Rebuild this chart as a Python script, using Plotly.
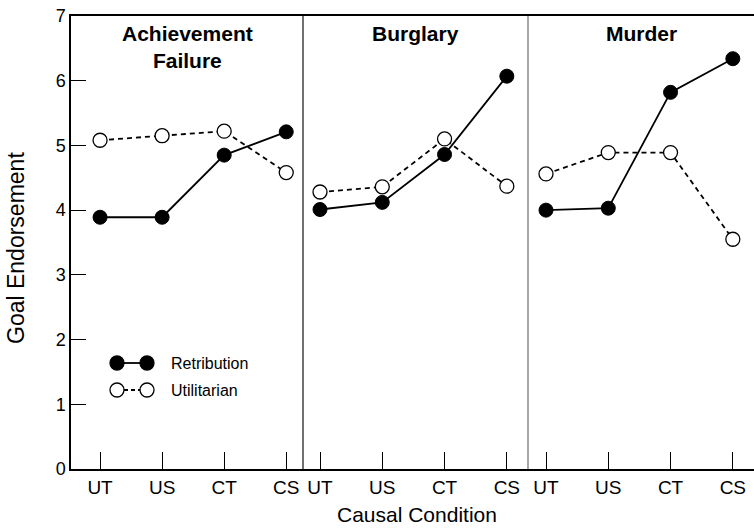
import plotly.graph_objects as go

conditions = ["UT", "US", "CT", "CS"]
panels = ["Achievement<br>Failure", "Burglary", "Murder"]
retribution = [
    [3.89, 3.89, 4.85, 5.21],
    [4.01, 4.12, 4.86, 6.07],
    [4.00, 4.03, 5.82, 6.34],
]
utilitarian = [
    [5.08, 5.15, 5.22, 4.58],
    [4.28, 4.36, 5.10, 4.37],
    [4.56, 4.89, 4.89, 3.55],
]
y_ticks = [0, 1, 2, 3, 4, 5, 6, 7]

FONT = "Liberation Sans, Arial, sans-serif"
W, H = 754, 528
ML, MR, MT, MB = 71, 0, 16, 59
PW = W - ML - MR
PH = H - MT - MB

# panel boundaries in pixels and the x ranges that place the four categories
bounds = [(71, 303), (303, 528), (528, 754)]
xranges = [[-0.468, 3.27], [-0.273, 3.34], [-0.289, 3.34]]

fig = go.Figure()
xs = list(range(len(conditions)))
for i in range(3):
    xa = "x" if i == 0 else f"x{i+1}"
    fig.add_trace(go.Scatter(
        x=xs, y=utilitarian[i], xaxis=xa, yaxis="y", mode="lines+markers",
        line=dict(color="black", width=1.8, dash="5px,4px"),
        marker=dict(size=14, color="white", line=dict(color="black", width=1.3)),
        showlegend=False, cliponaxis=False))
    fig.add_trace(go.Scatter(
        x=xs, y=retribution[i], xaxis=xa, yaxis="y", mode="lines+markers",
        line=dict(color="black", width=1.8),
        marker=dict(size=14, color="black", line=dict(color="black", width=1)),
        showlegend=False, cliponaxis=False))

def px2paper_x(px):
    return (px - ML) / PW

def px2paper_y(py):
    return (H - MB - py) / PH

layout = dict(
    width=W, height=H, margin=dict(l=ML, r=MR, t=MT, b=MB),
    paper_bgcolor="white", plot_bgcolor="white",
    font=dict(family=FONT, color="black", size=17),
    showlegend=False,
    yaxis=dict(range=[0, 7], tickvals=y_ticks, ticks="inside", ticklen=15,
               tickwidth=1.3, tickcolor="black", showline=True, linecolor="black",
               linewidth=1.5, showgrid=False, zeroline=False,
               tickfont=dict(size=18, family=FONT)),
)
for i, (a, b) in enumerate(bounds):
    key = "xaxis" if i == 0 else f"xaxis{i+1}"
    layout[key] = dict(
        domain=[px2paper_x(a), px2paper_x(b)], range=xranges[i],
        tickvals=xs, ticktext=conditions, ticks="inside", ticklen=17,
        tickwidth=1.3, tickcolor="black", showline=True, linecolor="black",
        linewidth=1.5, mirror=True, showgrid=False, zeroline=False,
        anchor="y", tickfont=dict(size=19, family=FONT))
fig.update_layout(**layout)

# panel separators
sep_colors = ["#222222", "#777777"]
for (a, _), col in zip(bounds[1:], sep_colors):
    fig.add_shape(type="line", xref="paper", yref="paper",
                  x0=px2paper_x(a), x1=px2paper_x(a), y0=0, y1=1,
                  line=dict(color=col, width=1.3))

# panel titles
for i, (a, b) in enumerate(bounds):
    fig.add_annotation(text=f"<b>{panels[i]}</b>", xref="paper", yref="paper",
                       x=px2paper_x((a + b) / 2), y=px2paper_y(20),
                       xanchor="center", yanchor="top", showarrow=False,
                       font=dict(size=21, family=FONT), align="center")

# axis titles
fig.add_annotation(text="Causal Condition", xref="paper", yref="paper",
                   x=px2paper_x(417), y=0, yshift=-MB,
                   xanchor="center", yanchor="bottom", showarrow=False,
                   font=dict(size=21, family=FONT))
fig.add_annotation(text="Goal Endorsement", xref="paper", yref="paper",
                   x=px2paper_x(16), y=px2paper_y(248), xanchor="center",
                   yanchor="middle", textangle=-90, showarrow=False,
                   font=dict(size=23, family=FONT))

# legend key: two markers joined by a line, then the label
legend_rows = [("Retribution", "black", "solid", 363),
               ("Utilitarian", "white", "4px,3px", 390)]
for label, fill, dash, py in legend_rows:
    yy = px2paper_y(py)
    fig.add_shape(type="line", xref="paper", yref="paper",
                  x0=px2paper_x(117), x1=px2paper_x(147), y0=yy, y1=yy,
                  line=dict(color="black", width=1.8, dash=dash))
    for cx in (117, 147):
        fig.add_shape(type="circle", xref="paper", yref="paper",
                      x0=px2paper_x(cx - 7), x1=px2paper_x(cx + 7),
                      y0=px2paper_y(py + 7), y1=px2paper_y(py - 7),
                      fillcolor=fill, line=dict(color="black", width=1.3))
    fig.add_annotation(text=label, xref="paper", yref="paper",
                       x=px2paper_x(169), y=yy, xanchor="left", yanchor="middle",
                       showarrow=False, font=dict(size=16, family=FONT))

fig.write_html("out.html")
